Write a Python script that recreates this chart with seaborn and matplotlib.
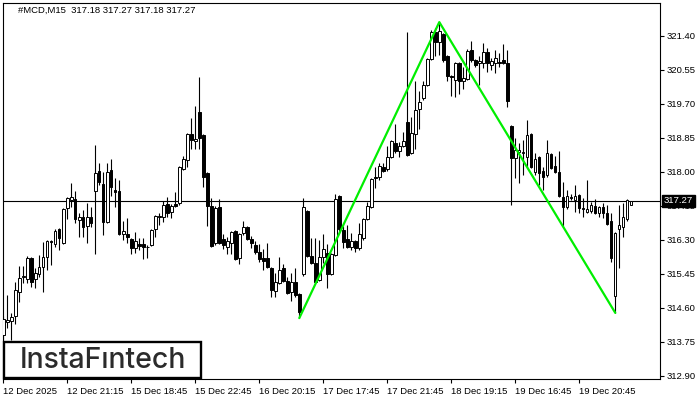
import numpy as np
import pandas as pd
import matplotlib
matplotlib.use("Agg")
import matplotlib.pyplot as plt
import matplotlib.transforms as mtransforms
from matplotlib.patches import Rectangle
import seaborn as sns

# ---------------- data ----------------
opens = [313.92, 314.24, 314.27, 314.39, 314.99, 315.38, 315.32, 315.84, 315.32, 315.44,
         315.62, 315.87, 316.28, 316.19, 316.57, 316.22, 317.09, 317.29, 317.32, 316.79,
         316.87, 316.64, 316.87, 317.52, 318.02, 317.69, 316.74, 318.04, 317.54, 317.52,
         316.44, 316.44, 316.32, 316.09, 316.19, 316.19, 316.11, 316.17, 316.57, 316.87,
         316.87, 317.19, 316.99, 317.19, 317.22, 318.07, 318.29, 318.94, 318.77, 319.49,
         318.92, 317.97, 317.14, 316.22, 317.12, 316.32, 316.12, 316.22, 316.52, 315.84,
         316.47, 316.62, 316.32, 316.17, 315.99, 315.84, 315.84, 315.59, 315.02, 315.22,
         315.59, 315.27, 314.99, 315.24, 314.94, 315.44, 317.02, 315.89, 315.72, 315.29,
         315.87, 315.97, 315.44, 315.92, 317.39, 316.54, 316.32, 316.12, 316.27, 316.09,
         316.34, 316.82, 317.12, 317.87, 317.87, 318.12, 318.07, 318.37, 318.72, 318.52,
         318.64, 319.24, 318.47, 318.94, 319.57, 319.84, 320.17, 320.82, 321.49, 321.24,
         321.44, 320.89, 320.40, 320.29, 320.72, 320.27, 320.32, 321.04, 320.79, 320.72,
         320.72, 320.99, 320.67, 320.72, 320.74, 320.79, 320.72, 319.14, 318.34, 318.49,
         318.47, 318.37, 318.94, 317.99, 318.37, 318.02, 317.92, 318.44, 318.14, 317.99,
         317.37, 317.12, 317.37, 317.29, 317.42, 317.09, 316.99, 317.02, 317.14, 316.97,
         317.12, 316.97, 316.77, 314.89, 316.57, 316.62, 316.82, 317.18]

highs = [314.39, 314.92, 314.47, 315.24, 315.64, 315.64, 315.89, 315.87, 315.59, 315.92,
         316.24, 316.29, 316.29, 316.57, 316.59, 317.09, 317.37, 317.72, 317.52, 316.97,
         317.04, 317.22, 317.12, 318.67, 318.22, 317.99, 318.22, 318.32, 317.84, 317.79,
         316.77, 316.84, 316.34, 316.49, 316.34, 316.34, 316.17, 316.57, 316.92, 316.97,
         317.27, 317.37, 317.19, 317.49, 318.14, 318.39, 318.97, 319.34, 319.64, 320.37,
         318.94, 317.99, 317.34, 317.14, 317.32, 316.44, 316.37, 316.52, 316.54, 316.47,
         316.77, 316.64, 316.39, 316.27, 316.19, 316.07, 316.22, 315.62, 315.47, 315.87,
         315.69, 315.37, 315.47, 315.59, 314.97, 317.34, 317.04, 316.34, 316.34, 316.29,
         316.44, 316.19, 315.97, 317.44, 317.42, 316.64, 316.67, 316.47, 316.29, 316.72,
         316.84, 317.24, 317.84, 318.12, 318.22, 318.22, 318.64, 318.79, 319.19, 318.74,
         318.99, 321.49, 319.37, 320.27, 320.02, 320.27, 320.84, 321.54, 321.59, 321.74,
         321.47, 320.92, 320.42, 320.74, 320.74, 320.62, 321.07, 321.27, 320.82, 320.89,
         321.22, 321.09, 320.84, 321.04, 320.97, 321.19, 321.04, 319.17, 318.84, 318.72,
         318.79, 319.29, 318.97, 318.47, 318.39, 318.12, 318.79, 318.47, 318.39, 318.52,
         317.74, 317.54, 317.44, 317.67, 317.44, 317.34, 317.79, 317.24, 317.32, 317.14,
         317.22, 317.17, 316.97, 316.49, 317.17, 317.22, 317.32, 317.27]

lows = [313.79, 314.09, 313.79, 314.19, 314.74, 315.22, 315.22, 315.12, 315.09, 315.37,
        314.99, 315.54, 315.67, 316.12, 316.04, 316.19, 316.82, 317.12, 316.72, 316.37,
        316.37, 316.22, 316.62, 315.94, 317.67, 316.42, 316.72, 317.39, 317.12, 316.42,
        316.29, 316.22, 315.94, 315.97, 316.04, 315.82, 315.84, 316.14, 316.37, 316.67,
        316.74, 316.87, 316.84, 317.12, 317.17, 318.04, 318.12, 318.57, 318.57, 318.57,
        317.62, 316.64, 316.12, 316.17, 316.19, 316.07, 315.94, 315.94, 315.79, 315.69,
        316.42, 316.29, 316.09, 315.94, 315.74, 315.54, 315.59, 314.87, 314.87, 315.19,
        315.24, 314.94, 314.77, 314.87, 314.34, 315.39, 315.87, 315.69, 315.22, 315.27,
        315.72, 315.09, 315.42, 315.89, 316.47, 316.09, 316.09, 316.04, 315.99, 316.04,
        316.29, 316.79, 317.09, 317.59, 317.79, 317.99, 318.02, 318.34, 318.47, 318.37,
        318.62, 318.39, 318.44, 318.57, 319.07, 319.79, 320.14, 320.79, 320.89, 320.92,
        320.74, 320.27, 319.89, 319.87, 319.94, 320.07, 320.29, 320.74, 320.62, 320.17,
        320.59, 320.49, 320.54, 320.47, 320.62, 320.69, 319.62, 317.17, 317.84, 317.72,
        317.92, 318.12, 318.09, 317.92, 317.67, 317.54, 317.87, 318.07, 317.97, 317.37,
        316.64, 317.07, 317.29, 316.99, 316.97, 316.87, 316.97, 316.97, 316.94, 316.87,
        316.84, 316.67, 315.74, 314.47, 315.59, 316.37, 316.77, 317.18]

closes = [314.32, 314.29, 314.37, 315.04, 315.34, 315.40, 315.84, 315.24, 315.47, 315.62,
          315.87, 316.27, 316.24, 316.52, 316.34, 317.07, 317.34, 317.37, 316.82, 316.87,
          316.62, 316.87, 316.72, 317.97, 317.74, 316.74, 317.99, 317.62, 317.49, 316.44,
          316.52, 316.37, 316.09, 316.27, 316.14, 316.12, 316.13, 316.54, 316.89, 316.89,
          317.17, 316.97, 317.14, 317.14, 318.12, 318.32, 318.94, 318.79, 318.82, 318.84,
          317.87, 317.14, 316.14, 317.09, 316.22, 316.17, 316.27, 316.49, 315.82, 316.44,
          316.62, 316.32, 316.22, 315.99, 315.82, 315.77, 315.62, 315.04, 315.24, 315.54,
          315.27, 314.97, 315.24, 314.92, 314.49, 317.12, 315.89, 315.72, 315.24, 315.87,
          316.07, 315.44, 315.94, 317.32, 316.57, 316.24, 316.12, 316.27, 316.09, 316.44,
          316.82, 317.14, 317.82, 317.84, 318.14, 318.02, 318.37, 318.77, 318.52, 318.64,
          318.77, 318.42, 318.97, 319.54, 319.74, 320.17, 320.82, 321.49, 321.24, 321.52,
          320.79, 320.39, 320.38, 320.72, 320.27, 320.34, 321.02, 320.79, 320.67, 320.77,
          320.99, 320.72, 320.77, 320.84, 320.72, 320.72, 319.77, 318.34, 318.54, 318.54,
          318.49, 318.92, 318.12, 318.32, 317.97, 317.87, 318.47, 318.09, 317.99, 317.39,
          317.12, 317.39, 317.34, 317.39, 317.09, 317.08, 317.07, 317.17, 316.97, 317.12,
          316.97, 316.69, 315.84, 316.47, 316.67, 316.87, 317.29, 317.27]

# double-bottom pattern (bar index, price)
pattern_idx = [74, 109, 153]
pattern_price = [314.34, 321.74, 314.47]

last_price = 317.27
title_text = "#MCD,M15  317.18 317.27 317.18 317.27"

ytick_vals = [321.40, 320.55, 319.70, 318.85, 318.00, 317.15, 316.30, 315.45, 314.60, 313.75, 312.90]
xtick_idx = [0, 16, 32, 48, 64, 80, 96, 112, 128, 144]
xtick_labels = ["12 Dec 2025", "12 Dec 21:15", "15 Dec 18:45", "15 Dec 22:45", "16 Dec 20:15",
                "17 Dec 17:45", "17 Dec 21:45", "18 Dec 19:15", "19 Dec 16:45", "19 Dec 20:45"]

# ---------------- drawing ----------------
sns.set_theme(style="white")
plt.rcParams['font.family'] = ['Liberation Sans', 'DejaVu Sans']

W, H = 700, 400
fig = plt.figure(figsize=(7, 4), dpi=100)
fig.patch.set_facecolor('white')
ax = fig.add_axes([2.5 / W, 21 / H, 657 / W, 376.5 / H])
ax.set_facecolor('white')

df = pd.DataFrame({"o": opens, "h": highs, "l": lows, "c": closes})
df["idx"] = np.arange(len(df))
up = df["c"] >= df["o"]
body_bottom = np.minimum(df["o"], df["c"])
body_height = np.maximum((df["c"] - df["o"]).abs(), 0.02)

ax.axhline(last_price, color='black', lw=0.8, zorder=1.5)
ax.vlines(df["idx"], df["l"], df["h"], color='black', lw=0.8, zorder=2)
ax.bar(df["idx"][up], body_height[up], bottom=body_bottom[up], width=0.6,
       color='white', edgecolor='black', linewidth=0.7, zorder=3)
ax.bar(df["idx"][~up], body_height[~up], bottom=body_bottom[~up], width=0.6,
       color='black', edgecolor='black', linewidth=0.7, zorder=3)

sns.lineplot(x=pattern_idx, y=pattern_price, ax=ax, color='#00ee00', lw=1.6, zorder=4)

ax.set_xlim(-0.2, 164.05)
ax.set_ylim(312.8175, 322.23)

ax.yaxis.tick_right()
ax.set_yticks(ytick_vals)
ax.set_yticklabels([f"{v:.2f}" for v in ytick_vals])
ax.set_xticks(xtick_idx)
ax.set_xticklabels(xtick_labels, ha='left')
ax.tick_params(axis='both', direction='out', length=3, width=0.8, color='black',
               labelsize=6.8, labelcolor='black', pad=2)
ax.tick_params(axis='x', bottom=True, top=False, pad=2.5)
ax.tick_params(axis='y', right=True, left=False, labelright=True, labelleft=False)
ax.set_xlabel("")
ax.set_ylabel("")
for s in ax.spines.values():
    s.set_visible(True)
    s.set_color('black')
    s.set_linewidth(0.8)

# last price tag on the axis
trans = mtransforms.blended_transform_factory(ax.transAxes, ax.transData)
ax.text(1.0 + 4.5 / 657, last_price, f"{last_price:.2f}", transform=trans, ha='left', va='center',
        color='white', fontsize=6.8, clip_on=False, zorder=10,
        bbox=dict(boxstyle='square,pad=0.2', fc='black', ec='black'))

# title
fig.text(18 / W, 1 - 10.5 / H, title_text, fontsize=6.8, ha='left', va='center', color='black')

# logo box
fig.patches.append(Rectangle((3.7 / W, 1 - 377.8 / H), 196.8 / W, 35.8 / H,
                             transform=fig.transFigure, facecolor='white', edgecolor='black',
                             linewidth=1.7, zorder=20))
fig.text(102.5 / W, 1 - 368.5 / H, "InstaFıntech", fontsize=20.5, ha='center', va='baseline',
         color='#2b2b2b', family=['Inter', 'DejaVu Sans'], fontweight='medium', zorder=21)

fig.savefig("out.png", dpi=100)
